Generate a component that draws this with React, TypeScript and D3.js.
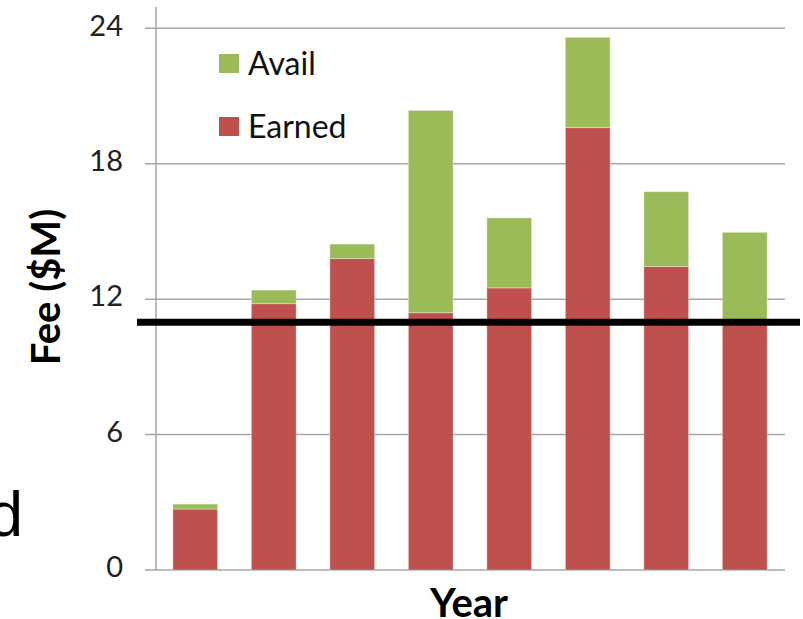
import React from "react";
import * as d3 from "d3";

const years = ["Y1", "Y2", "Y3", "Y4", "Y5", "Y6", "Y7", "Y8"];
const earned = [2.7, 11.8, 13.8, 11.4, 12.5, 19.6, 13.45, 11.0];
const total = [2.92, 12.4, 14.44, 20.36, 15.6, 23.6, 16.76, 14.96];
const avail = total.map((t, i) => +(t - earned[i]).toFixed(2));
const yTicks = [0, 6, 12, 18, 24];
const threshold = 10.98;
const seriesNames = ["Avail", "Earned"];

const W = 803;
const H = 619;
const RED = "#C0504D";
const GREEN = "#9BBB59";
const GRID = "#A6A6A6";

export default function App() {
  const x = d3
    .scaleBand<string>()
    .domain(years)
    .range([156, 784])
    .paddingInner(0.43)
    .paddingOuter(0.215);
  const y = d3.scaleLinear().domain([0, 24]).range([570, 28.3]);

  const stack = d3
    .stack<{ earned: number; avail: number }>()
    .keys(["earned", "avail"]);
  const rows = years.map((_, i) => ({ earned: earned[i], avail: avail[i] }));
  const layers = stack(rows);
  const colors: Record<string, string> = { earned: RED, avail: GREEN };

  return (
    <svg
      width={W}
      height={H}
      style={{ position: "absolute", left: 0, top: 0, background: "#fff" }}
    >
      {/* gridlines */}
      {yTicks.map((t) => (
        <line
          key={t}
          x1={145}
          x2={785}
          y1={y(t)}
          y2={y(t)}
          stroke={GRID}
          strokeWidth={1.5}
        />
      ))}
      {/* y axis */}
      <line x1={156} x2={156} y1={7} y2={570} stroke={GRID} strokeWidth={1.5} />
      {yTicks.map((t) => (
        <text
          key={"l" + t}
          x={123}
          y={y(t)}
          textAnchor="end"
          dominantBaseline="middle"
          fontFamily="Lato, 'Open Sans', sans-serif"
          fontSize={29}
          fill="#222"
        >
          {t}
        </text>
      ))}
      {/* bars */}
      {layers.map((layer) => (
        <g key={layer.key} fill={colors[layer.key]}>
          {layer.map((d, i) => (
            <rect
              key={i}
              x={x(years[i])}
              width={x.bandwidth()}
              y={y(d[1])}
              height={y(d[0]) - y(d[1])}
              stroke="rgba(255,255,255,0.35)"
              strokeWidth={1}
            />
          ))}
        </g>
      ))}
      {/* legend */}
      {seriesNames.map((name, i) => (
        <g key={name} transform={`translate(219, ${54 + i * 63})`}>
          <rect width={20} height={19} fill={name === "Avail" ? GREEN : RED} />
          <text
            x={29}
            y={21}
            fontFamily="Lato, 'Open Sans', sans-serif"
            fontSize={32}
            fill="#111"
          >
            {name}
          </text>
        </g>
      ))}
      {/* axis titles */}
      <text
        x={469}
        y={617}
        textAnchor="middle"
        fontFamily="Lato, 'Open Sans', sans-serif"
        fontWeight="bold"
        fontSize={40}
        fill="#000"
      >
        Year
      </text>
      <text
        transform="translate(60, 287) rotate(-90)"
        textAnchor="middle"
        fontFamily="Lato, 'Open Sans', sans-serif"
        fontWeight="bold"
        fontSize={40}
        fill="#000"
      >
        Fee ($M)
      </text>
      {/* threshold line */}
      <line
        x1={137}
        x2={800}
        y1={y(threshold)}
        y2={y(threshold)}
        stroke="#000"
        strokeWidth={7}
      />
      {/* cut-off slide text */}
      <text
        x={-12}
        y={536}
        fontFamily="'Liberation Sans', Arial, sans-serif"
        fontSize={63}
        fill="#000"
      >
        d
      </text>
    </svg>
  );
}
